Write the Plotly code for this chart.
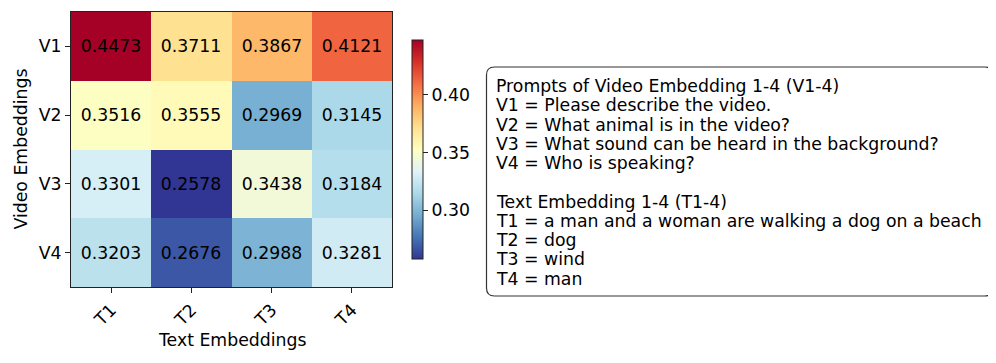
import plotly.graph_objects as go

text_labels = ["T1", "T2", "T3", "T4"]
video_labels = ["V1", "V2", "V3", "V4"]
values = [
    [0.4473, 0.3711, 0.3867, 0.4121],
    [0.3516, 0.3555, 0.2969, 0.3145],
    [0.3301, 0.2578, 0.3438, 0.3184],
    [0.3203, 0.2676, 0.2988, 0.3281],
]
box_lines = [
    "Prompts of Video Embedding 1-4 (V1-4)",
    "V1 = Please describe the video.",
    "V2 = What animal is in the video?",
    "V3 = What sound can be heard in the background?",
    "V4 = Who is speaking?",
    "",
    "Text Embedding 1-4 (T1-4)",
    "T1 = a man and a woman are walking a dog on a beach",
    "T2 = dog",
    "T3 = wind",
    "T4 = man",
]

OFF = 8  # page body margin
W, H = 996 - OFF, 363 - OFF
FONT = "DejaVu Sans"
FS = 17.3

def px(x): return (x - OFF) / W
def py(y): return 1 - (y - OFF) / H

flat = [v for row in values for v in row]
fig = go.Figure(go.Heatmap(
    z=values, x=text_labels, y=video_labels,
    colorscale="RdYlBu_r", zmin=min(flat), zmax=max(flat),
    text=[[f"{v:.4f}" for v in row] for row in values],
    texttemplate="%{text}", textfont=dict(family=FONT, size=FS, color="black"),
    xgap=0, ygap=0,
    colorbar=dict(
        x=px(412), xanchor="left", xpad=0, ypad=0,
        y=py(149.5), yanchor="middle", len=219 / H, lenmode="fraction",
        thickness=11, outlinewidth=1, outlinecolor="#222",
        tickvals=[0.30, 0.35, 0.40], tickformat=".2f",
        ticks="outside", ticklen=5, tickcolor="#222",
        tickfont=dict(family=FONT, size=FS, color="black"),
    ),
))

def rounded_rect(x0, y0, x1, y1, r):
    rx, ry = r / W, r / H
    X0, X1, Y0, Y1 = px(x0), px(x1), py(y0), py(y1)
    return (f"M {X0 + rx},{Y0} L {X1 - rx},{Y0} Q {X1},{Y0} {X1},{Y0 - ry} "
            f"L {X1},{Y1 + ry} Q {X1},{Y1} {X1 - rx},{Y1} "
            f"L {X0 + rx},{Y1} Q {X0},{Y1} {X0},{Y1 + ry} "
            f"L {X0},{Y0 - ry} Q {X0},{Y0} {X0 + rx},{Y0} Z")

fig.add_shape(type="path", xref="paper", yref="paper",
              path=rounded_rect(486.5, 67, 992.5, 296, 8),
              line=dict(color="#333", width=1.2), fillcolor="white")

for i, line in enumerate(box_lines):
    if not line:
        continue
    fig.add_annotation(
        xref="paper", yref="paper", x=px(494), y=py(86 + i * 19.25),
        xanchor="left", yanchor="middle", align="left", showarrow=False,
        text=line, font=dict(family=FONT, size=FS, color="black"),
    )

fig.add_annotation(xref="paper", yref="paper", x=px(231.5), y=py(340),
                   xanchor="center", yanchor="middle", showarrow=False,
                   text="Text Embeddings", font=dict(family=FONT, size=FS, color="black"))
fig.add_annotation(xref="paper", yref="paper", x=px(20), y=py(149.5),
                   xanchor="center", yanchor="middle", showarrow=False, textangle=-90,
                   text="Video Embeddings", font=dict(family=FONT, size=FS, color="black"))

axis_common = dict(
    showline=True, linecolor="#222", linewidth=1, mirror=True,
    ticks="outside", ticklen=5, tickcolor="#222",
    tickfont=dict(family=FONT, size=FS, color="black"),
    showgrid=False, zeroline=False, automargin=False,
)
fig.update_layout(
    width=W, height=H,
    margin=dict(l=0, r=0, t=0, b=0),
    paper_bgcolor="white", plot_bgcolor="white",
    font=dict(family=FONT, color="black"),
    xaxis=dict(domain=[px(71), px(392)], tickangle=-45, **axis_common),
    yaxis=dict(domain=[py(287), py(12)], autorange="reversed", **axis_common),
)

fig.write_html("out.html")
